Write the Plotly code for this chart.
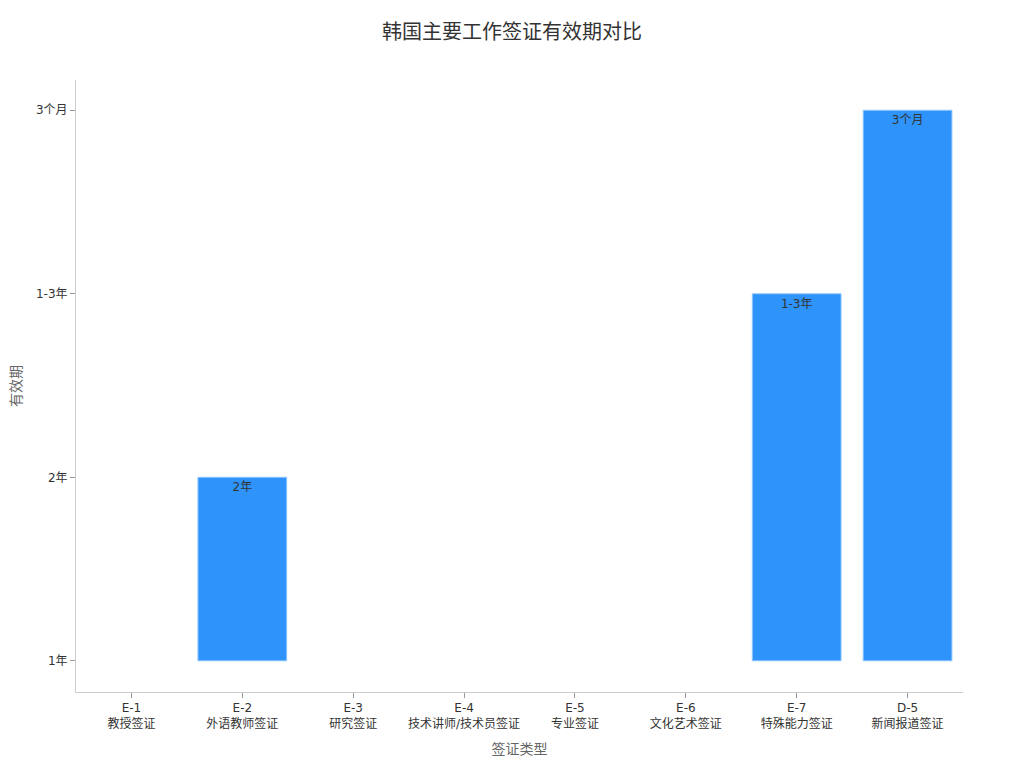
import plotly.graph_objects as go

codes = ["E-1", "E-2", "E-3", "E-4", "E-5", "E-6", "E-7", "D-5"]
names = ["教授签证", "外语教师签证", "研究签证", "技术讲师/技术员签证", "专业签证", "文化艺术签证", "特殊能力签证", "新闻报道签证"]
validity = [None, "2年", None, None, None, None, "1-3年", "3个月"]
y_levels = ["1年", "2年", "1-3年", "3个月"]

x_labels = [f"{c}<br>{n}" for c, n in zip(codes, names)]

fig = go.Figure()
fig.add_trace(go.Bar(
    x=x_labels,
    y=validity,
    text=validity,
    textposition="inside",
    insidetextanchor="end",
    textfont=dict(color="#333333", size=12),
    marker=dict(color="#2E93FA", line=dict(color="#8EC5FC", width=1)),
))

fig.update_layout(
    font=dict(family="DejaVu Sans, Noto Sans CJK SC, sans-serif", size=12, color="#333333"),
    title=dict(text="韩国主要工作签证有效期对比", x=0.5, xanchor="center", y=0.968, yanchor="middle",
               font=dict(size=20, color="#333333")),
    paper_bgcolor="white", plot_bgcolor="white",
    margin=dict(l=68, r=53, t=72, b=68),
    bargap=0.2,
    showlegend=False,
)
fig.update_xaxes(
    automargin=False,
    showline=True, linecolor="#cccccc", linewidth=1,
    ticks="outside", tickcolor="#999999", ticklen=5,
    showgrid=False, range=[-0.5, 7.5],
    title=dict(text="签证类型", font=dict(size=14, color="#666666"), standoff=14),
    tickfont=dict(size=12, color="#333333"),
)
fig.update_yaxes(
    automargin=False,
    type="category", categoryorder="array", categoryarray=y_levels,
    showline=True, linecolor="#cccccc", linewidth=1,
    ticks="outside", tickcolor="#999999", ticklen=5,
    showgrid=False, range=[-0.17, 3.165],
    title=dict(text="有效期", font=dict(size=14, color="#666666")),
    tickfont=dict(size=12, color="#333333"),
)

fig.write_html("out.html")
